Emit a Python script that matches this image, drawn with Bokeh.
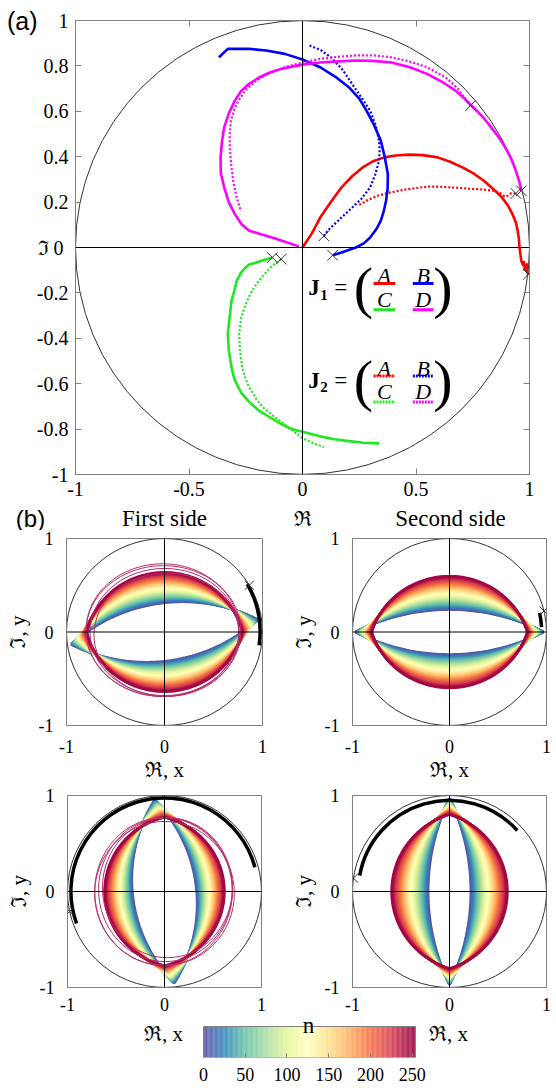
import numpy as np
from bokeh.plotting import figure
from bokeh.layouts import column, row
from bokeh.models import Span, LinearAxis, FixedTicker, Range1d
from bokeh.core.properties import value
from bokeh.embed import file_html
from bokeh.resources import INLINE

SERIF = "Liberation Serif"
SANS = "Liberation Sans"
GRAY = "#808080"

# ---------------- panel (a) data ----------------
red_j1_x = [0.0, 0.04, 0.078, 0.125, 0.172, 0.22, 0.266, 0.31, 0.36, 0.41, 0.47, 0.53, 0.596, 0.65, 0.705, 0.755,
            0.799, 0.84, 0.878, 0.905, 0.925, 0.94, 0.948, 0.953, 0.956, 0.96, 0.964, 0.972, 0.975, 0.98, 0.985, 0.99, 0.987, 0.995]
red_j1_y = [0.0, 0.06, 0.132, 0.2, 0.265, 0.315, 0.353, 0.38, 0.397, 0.405, 0.409, 0.407, 0.397, 0.378, 0.353, 0.325,
            0.294, 0.258, 0.221, 0.185, 0.147, 0.11, 0.074, 0.04, 0.0, -0.03, -0.059, -0.08, -0.06, -0.103, -0.09, -0.07, -0.1, -0.118]
red_j2_x = [0.25, 0.29, 0.33, 0.39, 0.45, 0.5, 0.55, 0.6, 0.65, 0.7, 0.75, 0.8, 0.84, 0.87, 0.89, 0.905, 0.92, 0.94]
red_j2_y = [0.188, 0.21, 0.228, 0.243, 0.255, 0.262, 0.268, 0.268, 0.265, 0.262, 0.258, 0.255, 0.25, 0.24, 0.225, 0.228, 0.24, 0.238]

blue_j1_x = [-0.368, -0.329, -0.29, -0.235, -0.16, -0.078, 0.0, 0.078, 0.145, 0.204, 0.25, 0.282, 0.315, 0.345, 0.362,
             0.376, 0.375, 0.368, 0.358, 0.345, 0.325, 0.298, 0.27, 0.235, 0.2, 0.172, 0.133]
blue_j1_y = [0.838, 0.875, 0.875, 0.875, 0.868, 0.853, 0.828, 0.794, 0.752, 0.706, 0.656, 0.603, 0.54, 0.471, 0.4,
             0.324, 0.26, 0.206, 0.16, 0.118, 0.08, 0.044, 0.018, 0.0, -0.012, -0.022, -0.034]
blue_j2_x = [0.031, 0.08, 0.125, 0.175, 0.219, 0.26, 0.298, 0.322, 0.337, 0.34, 0.337, 0.32, 0.298, 0.26, 0.219, 0.18, 0.141, 0.115, 0.094]
blue_j2_y = [0.89, 0.87, 0.838, 0.785, 0.72, 0.66, 0.603, 0.54, 0.471, 0.43, 0.382, 0.32, 0.265, 0.215, 0.176, 0.14, 0.103, 0.078, 0.051]

green_j1_x = [-0.133, -0.17, -0.204, -0.235, -0.251, -0.27, -0.29, -0.3, -0.313, -0.32, -0.329, -0.325, -0.313, -0.3,
              -0.27, -0.235, -0.19, -0.141, -0.09, -0.047, 0.0, 0.078, 0.14, 0.204, 0.27, 0.337]
green_j1_y = [-0.044, -0.055, -0.066, -0.075, -0.088, -0.11, -0.147, -0.19, -0.235, -0.3, -0.378, -0.45, -0.527, -0.58,
              -0.64, -0.68, -0.72, -0.75, -0.78, -0.8, -0.812, -0.832, -0.845, -0.853, -0.86, -0.863]
green_j2_x = [-0.094, -0.12, -0.141, -0.175, -0.204, -0.23, -0.251, -0.27, -0.279, -0.276, -0.266, -0.25, -0.235, -0.205,
              -0.172, -0.125, -0.078, -0.04, 0.0, 0.05, 0.094]
green_j2_y = [-0.051, -0.07, -0.088, -0.125, -0.162, -0.205, -0.25, -0.31, -0.378, -0.45, -0.527, -0.58, -0.616, -0.665,
              -0.706, -0.745, -0.78, -0.81, -0.84, -0.863, -0.88]

mag_j1_x = [-0.016, -0.12, -0.235, -0.27, -0.298, -0.325, -0.345, -0.36, -0.361, -0.355, -0.345, -0.325, -0.298, -0.27,
            -0.235, -0.19, -0.141, -0.09, -0.031, 0.02, 0.078, 0.16, 0.235, 0.31, 0.392, 0.47, 0.549, 0.615, 0.674,
            0.715, 0.752, 0.795, 0.831, 0.865, 0.893, 0.92, 0.94, 0.955, 0.964]
mag_j1_y = [0.005, 0.04, 0.074, 0.105, 0.147, 0.2, 0.265, 0.33, 0.397, 0.465, 0.529, 0.59, 0.647, 0.69, 0.721, 0.75,
            0.772, 0.788, 0.8, 0.808, 0.815, 0.82, 0.824, 0.822, 0.815, 0.795, 0.765, 0.73, 0.691, 0.655, 0.618, 0.575,
            0.529, 0.485, 0.441, 0.39, 0.338, 0.29, 0.25]
mag_j2_x = [-0.274, -0.29, -0.305, -0.313, -0.32, -0.321, -0.315, -0.3, -0.282, -0.25, -0.204, -0.145, -0.078, 0.0,
            0.078, 0.155, 0.235, 0.315, 0.392, 0.47, 0.549, 0.63, 0.68, 0.74]
mag_j2_y = [0.169, 0.22, 0.29, 0.353, 0.43, 0.5, 0.56, 0.61, 0.647, 0.695, 0.735, 0.768, 0.794, 0.815, 0.831, 0.84,
            0.846, 0.846, 0.838, 0.82, 0.794, 0.75, 0.705, 0.625]

a_xticks = [-1, -0.5, 0, 0.5, 1]
a_xlabels = ["-1", "-0.5", "0", "0.5", "1"]
a_yticks = [-1, -0.8, -0.6, -0.4, -0.2, 0, 0.2, 0.4, 0.6, 0.8, 1]
a_ylabels = ["-1", "-0.8", "-0.6", "-0.4", "-0.2", "\u2111  0", "0.2", "0.4", "0.6", "0.8", "1"]
a_tag = "(a)"
b_tag = "(b)"
titles = ["First side", "Second side"]
re_label = "\u211c"
re_x_label = "\u211c, x"
im_y_label = "\u2111, y"

# ---------------- panel (b) data ----------------
b_ticks = [-1, 0, 1]
b_labels = ["-1", "0", "1"]
cb_ticks = [0, 50, 100, 150, 200, 250]
n_max = 250

# lens shapes at n = 0 and n = 250: half length, half width, tilt (deg)
s1_top_a = [0.96, 0.79]; s1_top_b = [0.31, 0.64]; s1_top_tilt = [8, 0]
s2_top_a = [0.97, 0.80]; s2_top_b = [0.24, 0.60]; s2_top_tilt = [0, 0]
s1_bot_a = [0.96, 0.77]; s1_bot_b = [0.33, 0.62]; s1_bot_tilt = [6, 0]
s2_bot_a = [0.97, 0.80]; s2_bot_b = [0.22, 0.60]; s2_bot_tilt = [0, 0]

# thin crimson rings (first side)
s1_top_ring_cx = [0.0, -0.02, 0.02, -0.01]
s1_top_ring_cy = [0.0, 0.02, -0.03, 0.01]
s1_top_ring_w = [1.52, 1.56, 1.48, 1.58]
s1_top_ring_h = [1.36, 1.42, 1.32, 1.40]
s1_bot_ring_cx = [0.01, -0.01, 0.03, 0.0]
s1_bot_ring_cy = [0.02, 0.0, 0.04, -0.02]
s1_bot_ring_w = [1.38, 1.42, 1.34, 1.44]
s1_bot_ring_h = [1.5, 1.54, 1.46, 1.5]

# black eigenvalue arcs (deg), radius, cross position (deg)
s1_top_arc = [-8, 30]; s1_top_arc_r = 0.975; s1_top_cross = 30
s2_top_arc = [3, 12]; s2_top_arc_r = 0.95; s2_top_cross = 13
s1_bot_arc = [15, 200]; s1_bot_arc_r = 0.965; s1_bot_cross = 192
s2_bot_arc = [42, 170]; s2_bot_arc_r = 0.94; s2_bot_cross = 172

spectral = ['#5e4fa2', '#3288bd', '#66c2a5', '#abdda4', '#e6f598', '#ffffbf',
            '#fee08b', '#fdae61', '#f46d43', '#d53e4f', '#9e0142']


def make_palette(n):
    rgb = np.array([[int(c[i:i + 2], 16) for i in (1, 3, 5)] for c in spectral], dtype=float)
    pos = np.linspace(0, 1, len(spectral))
    t = np.linspace(0, 1, n)
    out = []
    for tt in t:
        r, g, b = (np.interp(tt, pos, rgb[:, k]) for k in range(3))
        out.append("#%02x%02x%02x" % (int(round(r)), int(round(g)), int(round(b))))
    return out


PAL = make_palette(256)


def lens(a, b, tilt_deg, vertical, m=90):
    R = (a * a + b * b) / (2 * b)
    cy = b - R
    th0 = np.arctan2(-cy, a)
    th = np.linspace(th0, np.pi - th0, m)
    ux = R * np.cos(th)
    uy = cy + R * np.sin(th)
    x = np.concatenate([ux, ux[::-1]])
    y = np.concatenate([uy, -uy[::-1]])
    if vertical:
        x, y = -y, x
    t = np.radians(tilt_deg)
    return x * np.cos(t) - y * np.sin(t), x * np.sin(t) + y * np.cos(t)


def style_axis(ax, ticks, labels, size, standoff):
    ax.ticker = FixedTicker(ticks=ticks)
    ax.major_label_overrides = dict(zip(ticks, labels))
    ax.major_label_text_font = SERIF
    ax.major_label_text_font_size = size
    ax.major_label_text_color = "black"
    ax.major_label_standoff = standoff
    ax.minor_tick_line_color = None
    ax.axis_line_color = GRAY
    ax.axis_label_text_font = SERIF
    ax.axis_label_text_font_style = "normal"
    ax.axis_label_text_font_size = "21px"
    ax.axis_label_text_color = "black"


# ---------------- figure (a) ----------------
pa = figure(width=556, height=505, x_range=Range1d(-1, 1), y_range=Range1d(-1, 1),
            output_backend="svg", toolbar_location=None, frame_align=False,
            min_border_left=75, min_border_right=27, min_border_top=20, min_border_bottom=31)
pa.grid.visible = False
pa.outline_line_color = GRAY
style_axis(pa.xaxis[0], a_xticks, a_xlabels, "20px", 7)
style_axis(pa.yaxis[0], a_yticks, a_ylabels, "20px", 7)
for ax in (pa.xaxis[0], pa.yaxis[0]):
    ax.major_tick_in = 6
    ax.major_tick_out = 0
    ax.major_tick_line_color = GRAY
for loc, ticks in (("above", a_xticks), ("right", a_yticks)):
    ax = LinearAxis(ticker=FixedTicker(ticks=ticks), major_label_text_font_size="1px",
                    major_label_text_color=None, major_label_standoff=0,
                    major_tick_in=6, major_tick_out=0, major_tick_line_color=GRAY,
                    minor_tick_line_color=None, axis_line_color=GRAY)
    pa.add_layout(ax, loc)
# panel tag "(a)" as an outer left axis label at the top tick
tag_axis = LinearAxis(ticker=FixedTicker(ticks=[1]), major_label_overrides={1: a_tag},
                      major_label_text_font=SANS, major_label_text_font_size="25px",
                      major_label_text_color="black", major_label_standoff=-10,
                      major_tick_line_color=None, minor_tick_line_color=None, axis_line_color=None)
pa.add_layout(tag_axis, "left")

pa.ellipse(x=0, y=0, width=2, height=2, fill_color=None, line_color="#333333", line_width=1)
pa.add_layout(Span(location=0, dimension="height", line_color="black", line_width=1))
pa.add_layout(Span(location=0, dimension="width", line_color="black", line_width=1))

series = [
    (red_j1_x, red_j1_y, "#ff0000", None), (red_j2_x, red_j2_y, "#ff0000", "2 2"),
    (blue_j1_x, blue_j1_y, "#0000ff", None), (blue_j2_x, blue_j2_y, "#0000ff", "2 2"),
    (green_j1_x, green_j1_y, "#1ee81e", None), (green_j2_x, green_j2_y, "#1ee81e", "2 2"),
    (mag_j1_x, mag_j1_y, "#ff00ff", None), (mag_j2_x, mag_j2_y, "#ff00ff", "2 2"),
]
for xs, ys, col, dash in series:
    if dash is None:
        pa.line(xs, ys, line_color=col, line_width=2.6)
    else:
        pa.line(xs, ys, line_color=col, line_width=2.2, line_dash=dash)

cross_x = [red_j1_x[-1], red_j2_x[-1], mag_j1_x[-1], mag_j2_x[-1], blue_j1_x[-1], blue_j2_x[-1], green_j1_x[0], green_j2_x[0]]
cross_y = [red_j1_y[-1], red_j2_y[-1], mag_j1_y[-1], mag_j2_y[-1], blue_j1_y[-1], blue_j2_y[-1], green_j1_y[0], green_j2_y[0]]
pa.scatter(cross_x, cross_y, marker="x", size=15, line_color="#333333", line_width=1)

# matrix legends
for yc, sub, dash in ((-0.178, "1", None), (-0.585, "2", "2 1")):
    pa.text(x=[0.025], y=[yc], text=["J"], text_font=value(SERIF), text_font_style="bold",
            text_font_size="23px", text_baseline="middle", text_align="left")
    pa.text(x=[0.078], y=[yc - 0.03], text=[sub], text_font=value(SERIF), text_font_style="bold",
            text_font_size="15px", text_baseline="middle", text_align="left")
    pa.text(x=[0.14], y=[yc], text=["="], text_font=value(SERIF),
            text_font_size="23px", text_baseline="middle", text_align="left")
    pa.text(x=[0.268, 0.618], y=[yc, yc], text=["(", ")"], text_font=value(SERIF),
            text_font_size="58px", text_baseline="middle", text_align="center")
    pa.text(x=[0.36, 0.532, 0.36, 0.532], y=[yc + 0.053, yc + 0.053, yc - 0.05, yc - 0.05],
            text=["A", "B", "C", "D"], text_font=value(SERIF), text_font_style="italic",
            text_font_size="22px", text_baseline="middle", text_align="center")
    seg_cols = ["#ff0000", "#0000ff", "#1ee81e", "#ff00ff"]
    x0s = [0.313, 0.486, 0.313, 0.486]
    x1s = [0.408, 0.577, 0.408, 0.577]
    yls = [yc + 0.019, yc + 0.019, yc - 0.096, yc - 0.096]
    if dash is None:
        pa.segment(x0=x0s, y0=yls, x1=x1s, y1=yls, line_color=seg_cols, line_width=3)
    else:
        pa.segment(x0=x0s, y0=yls, x1=x1s, y1=yls, line_color=seg_cols, line_width=3, line_dash=dash)

# ---------------- text strip between panels: (b), titles, axis label of (a) ----------------
strip = figure(width=556, height=25, x_range=Range1d(0, 556), y_range=Range1d(0, 25),
               x_axis_type=None, y_axis_type=None, output_backend="svg", toolbar_location=None,
               frame_align=False, min_border=0, outline_line_color=None)
strip.grid.visible = False
strip.text(x=[30], y=[12.5], text=[b_tag], text_font=value(SANS), text_font_size="24px",
           text_align="center", text_baseline="middle")
strip.text(x=[164, 450], y=[12, 12], text=titles, text_font=value(SERIF), text_font_size="23px",
           text_align="center", text_baseline="middle")
strip.text(x=[302], y=[12], text=[re_label], text_font=value(SERIF), text_font_size="21px",
           text_align="center", text_baseline="middle")


# ---------------- figure (b) subplots ----------------
def sub_fig(height, mbl, mbr, mbt, mbb, xlabel, la, lb, lt, vertical, rings, arc, arc_r, cross):
    p = figure(width=278, height=height, x_range=Range1d(-1, 1), y_range=Range1d(-1, 1),
               output_backend="svg", toolbar_location=None, frame_align=False,
               min_border_left=mbl, min_border_right=mbr, min_border_top=mbt, min_border_bottom=mbb)
    p.grid.visible = False
    p.outline_line_color = GRAY
    style_axis(p.xaxis[0], b_ticks, b_labels, "18px", 8 if xlabel else 4)
    style_axis(p.yaxis[0], b_ticks, b_labels, "18px", 7)
    for ax in (p.xaxis[0], p.yaxis[0]):
        ax.major_tick_line_color = None
    if xlabel:
        p.xaxis.axis_label = re_x_label
        p.xaxis.axis_label_standoff = 2
    p.yaxis.axis_label = im_y_label
    p.yaxis.axis_label_standoff = 6
    p.ellipse(x=0, y=0, width=2, height=2, fill_color=None, line_color="#333333", line_width=1)
    p.add_layout(Span(location=0, dimension="height", line_color="black", line_width=1))
    p.add_layout(Span(location=0, dimension="width", line_color="black", line_width=1))
    xs, ys, cols = [], [], []
    for n in range(0, n_max + 1, 4):
        f = n / n_max
        a = la[0] + (la[1] - la[0]) * f
        b = lb[0] + (lb[1] - lb[0]) * f
        t = lt[0] + (lt[1] - lt[0]) * f
        x, y = lens(a, b, t, vertical)
        xs.append(list(x)); ys.append(list(y)); cols.append(PAL[int(round(f * 255))])
    p.multi_line(xs, ys, line_color=cols, line_width=2.6)
    if rings is not None:
        cx, cy, w, h = rings
        p.ellipse(x=cx, y=cy, width=w, height=h, fill_color=None, line_color="#b8306e", line_width=1)
    p.arc(x=0, y=0, radius=arc_r, start_angle=np.radians(arc[0]), end_angle=np.radians(arc[1]),
          line_color="black", line_width=3.5)
    ca = np.radians(cross)
    p.scatter([np.cos(ca)], [np.sin(ca)], marker="x", size=13, line_color="#333333", line_width=1)
    return p


b1 = sub_fig(254, 66, 16, 8, 51, True, s1_top_a, s1_top_b, s1_top_tilt, False,
             (s1_top_ring_cx, s1_top_ring_cy, s1_top_ring_w, s1_top_ring_h), s1_top_arc, s1_top_arc_r, s1_top_cross)
b2 = sub_fig(254, 74, 10, 8, 51, True, s2_top_a, s2_top_b, s2_top_tilt, False,
             None, s2_top_arc, s2_top_arc_r, s2_top_cross)
b3 = sub_fig(229, 67, 17, 11, 25, False, s1_bot_a, s1_bot_b, s1_bot_tilt, True,
             (s1_bot_ring_cx, s1_bot_ring_cy, s1_bot_ring_w, s1_bot_ring_h), s1_bot_arc, s1_bot_arc_r, s1_bot_cross)
b4 = sub_fig(229, 74, 10, 11, 25, False, s2_bot_a, s2_bot_b, s2_bot_tilt, True,
             None, s2_bot_arc, s2_bot_arc_r, s2_bot_cross)

# ---------------- colour bar (frame spans full width; bar occupies n = 0..254) ----------------
cb_end = 254
px_per_n = 212 / cb_end
bar_px = 31
pc = figure(width=556, height=75,
            x_range=Range1d(-203 / px_per_n, cb_end + 141 / px_per_n), y_range=Range1d(0, 44 / bar_px),
            y_axis_type=None, output_backend="svg", toolbar_location=None, frame_align=False,
            min_border_left=0, min_border_right=0, min_border_top=0, min_border_bottom=31,
            outline_line_color=None)
pc.grid.visible = False
style_axis(pc.xaxis[0], cb_ticks, [str(t) for t in cb_ticks], "18px", 10)
pc.xaxis.axis_line_color = None
pc.xaxis.major_tick_in = 4
pc.xaxis.major_tick_out = 0
pc.xaxis.major_tick_line_color = GRAY
cb_n = np.arange(0, cb_end)
pc.quad(left=cb_n, right=cb_n + 1.05, bottom=0, top=1,
        fill_color=[PAL[min(255, int(round(v / n_max * 255)))] for v in cb_n], line_color=None)
pc.quad(left=[0], right=[cb_end], bottom=[0], top=[1], fill_color=None, line_color=GRAY, line_width=1)
pc.text(x=[-47.9, 293.5], y=[24 / bar_px, 24 / bar_px], text=[re_x_label, re_x_label], text_font=value(SERIF),
        text_font_size="21px", text_align="center", text_baseline="middle")
pc.text(x=[125.8], y=[32.5 / bar_px], text=["n"], text_font=value(SERIF), text_font_size="23px",
        text_align="center", text_baseline="alphabetic")

layout = column(pa, strip, row(b1, b2), row(b3, b4), pc)
open("out.html", "w").write(file_html(layout, INLINE))
